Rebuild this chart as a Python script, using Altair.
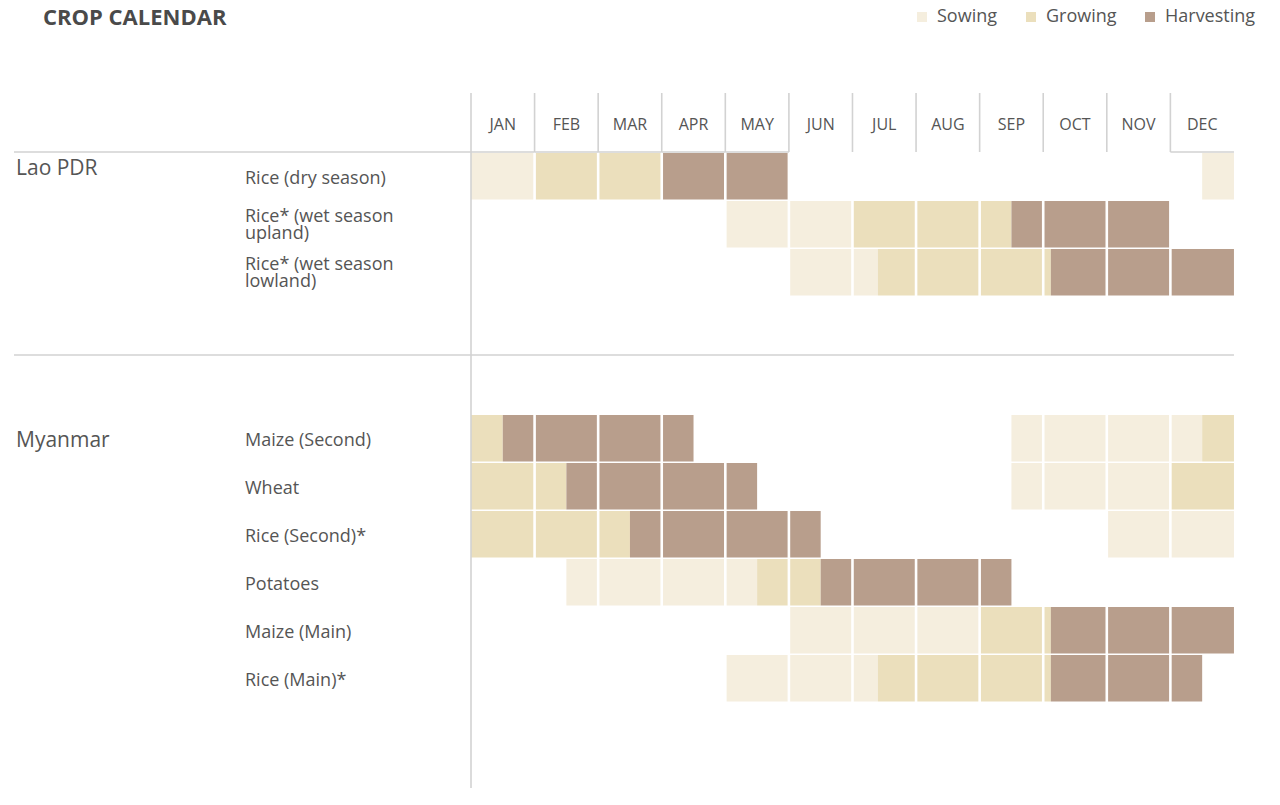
import altair as alt
import pandas as pd

# ---------------- data ----------------
TITLE = "CROP CALENDAR"
months = ["JAN", "FEB", "MAR", "APR", "MAY", "JUN", "JUL", "AUG", "SEP", "OCT", "NOV", "DEC"]
stages = ["Sowing", "Growing", "Harvesting"]
stage_colors = ["#F5EEDE", "#EBDFBC", "#B89E8C"]

countries = ["Lao PDR", "Myanmar"]
lao_crops = ["Rice (dry season)", "Rice* (wet season\nupland)", "Rice* (wet season\nlowland)"]
myanmar_crops = ["Maize (Second)", "Wheat", "Rice (Second)*", "Potatoes", "Maize (Main)", "Rice (Main)*"]

# stage periods, in months (0 = start of January, 12 = end of December)
rice_dry_stage = ["Sowing", "Growing", "Harvesting", "Sowing"]
rice_dry_from = [0, 1, 3, 11.5]
rice_dry_to = [1, 3, 5, 12]

rice_upland_stage = ["Sowing", "Growing", "Harvesting"]
rice_upland_from = [4, 6, 8.5]
rice_upland_to = [6, 8.5, 11]

rice_lowland_stage = ["Sowing", "Growing", "Harvesting"]
rice_lowland_from = [5, 6.4, 9.12]
rice_lowland_to = [6.4, 9.12, 12]

maize_second_stage = ["Growing", "Harvesting", "Sowing", "Growing"]
maize_second_from = [0, 0.5, 8.5, 11.5]
maize_second_to = [0.5, 3.5, 11.5, 12]

wheat_stage = ["Growing", "Harvesting", "Sowing", "Growing"]
wheat_from = [0, 1.5, 8.5, 11]
wheat_to = [1.5, 4.5, 11, 12]

rice_second_stage = ["Growing", "Harvesting", "Sowing"]
rice_second_from = [0, 2.5, 10]
rice_second_to = [2.5, 5.5, 12]

potatoes_stage = ["Sowing", "Growing", "Harvesting"]
potatoes_from = [1.5, 4.5, 5.5]
potatoes_to = [4.5, 5.5, 8.5]

maize_main_stage = ["Sowing", "Growing", "Harvesting"]
maize_main_from = [5, 8, 9.12]
maize_main_to = [8, 9.12, 12]

rice_main_stage = ["Sowing", "Growing", "Harvesting"]
rice_main_from = [4, 6.4, 9.12]
rice_main_to = [6.4, 9.12, 11.5]

crop_periods = [
    [(rice_dry_stage, rice_dry_from, rice_dry_to),
     (rice_upland_stage, rice_upland_from, rice_upland_to),
     (rice_lowland_stage, rice_lowland_from, rice_lowland_to)],
    [(maize_second_stage, maize_second_from, maize_second_to),
     (wheat_stage, wheat_from, wheat_to),
     (rice_second_stage, rice_second_from, rice_second_to),
     (potatoes_stage, potatoes_from, potatoes_to),
     (maize_main_stage, maize_main_from, maize_main_to),
     (rice_main_stage, rice_main_from, rice_main_to)],
]
crop_names = [lao_crops, myanmar_crops]

# ---------------- layout ----------------
W, H = 1262, 780
MONTH_PX = 63.58
ORIGIN_PX = 463.0
X_DOMAIN = [-ORIGIN_PX / MONTH_PX, (W - ORIGIN_PX) / MONTH_PX]


def mx(px):
    return (px - ORIGIN_PX) / MONTH_PX


HEADER_TOP, HEADER_BOTTOM = 85, 144
ROW_STEP, CELL_H = 48, 46.5
group_tops = [145, 407]
SEP_Y = 347
LINE_LEFT = mx(6)
COUNTRY_X, CROP_X = 8, 237
country_dy = [22, 32]
CROP_DY = 25.5
LINE_H = 17.5
TEXT = "#555555"
GRID = "#d2d2d2"
FONT = "Open Sans"

xs = alt.Scale(domain=X_DOMAIN, nice=False, zero=False)
ys = alt.Scale(domain=[0, H], reverse=True, nice=False, zero=False)

cells, gaps, crop_lbl, country_lbl = [], [], [], []
for ci, country in enumerate(countries):
    top0 = group_tops[ci]
    country_lbl.append({"text": country, "y": top0 + country_dy[ci]})
    for ri, crop in enumerate(crop_names[ci]):
        top = top0 + ri * ROW_STEP
        n_lines = crop.count("\n") + 1
        crop_lbl.append({"text": crop, "y": top + CROP_DY - (n_lines - 1) * (LINE_H / 2 + 1)})
        st, fr, to = crop_periods[ci][ri]
        for s, a, b in zip(st, fr, to):
            cells.append({"stage": s, "x": a, "x2": b, "y": top, "y2": top + CELL_H})
    bottom = top0 + (len(crop_names[ci]) - 1) * ROW_STEP + CELL_H
    for m in range(1, 12):
        gaps.append({"x": m, "y": top0 - 1, "y2": bottom + 1})

cells = pd.DataFrame(cells)
gaps = pd.DataFrame(gaps)
crop_lbl = pd.DataFrame(crop_lbl)
country_lbl = pd.DataFrame(country_lbl)

month_df = pd.DataFrame({"month": months, "x": [i + 0.5 for i in range(12)], "y": [122] * 12})
vlines = pd.DataFrame({"x": list(range(12)), "y": [HEADER_TOP] * 12,
                       "y2": [H] + [HEADER_BOTTOM] * 11})

# header bottom border: label area + months in which the first crop row is filled
hb = [{"x": LINE_LEFT, "x2": 0, "y": HEADER_BOTTOM}]
st0, fr0, to0 = crop_periods[0][0]
for m in range(12):
    if any(a < m + 1 and b > m for a, b in zip(fr0, to0)):
        hb.append({"x": m, "x2": m + 1, "y": HEADER_BOTTOM})
hb = pd.DataFrame(hb)
sep = pd.DataFrame({"x": [LINE_LEFT], "x2": [12], "y": [SEP_Y]})
title_df = pd.DataFrame({"text": [TITLE]})

rects = alt.Chart(cells).mark_rect().encode(
    x=alt.X("x:Q", scale=xs, axis=None),
    x2="x2:Q",
    y=alt.Y("y:Q", scale=ys, axis=None),
    y2="y2:Q",
    color=alt.Color(
        "stage:N",
        scale=alt.Scale(domain=stages, range=stage_colors),
        legend=alt.Legend(
            orient="none", legendX=905, legendY=0, direction="horizontal", title=None,
            symbolType="square", symbolSize=100, symbolStrokeWidth=0, symbolOpacity=1,
            labelFontSize=18, labelFont=FONT, labelColor=TEXT, labelOffset=6,
            columnPadding=24, padding=0,
        ),
    ),
)

gap_rules = alt.Chart(gaps).mark_rule(color="white", strokeWidth=2.6).encode(
    x=alt.X("x:Q", scale=xs, axis=None),
    y=alt.Y("y:Q", scale=ys, axis=None),
    y2="y2:Q",
)

v_rules = alt.Chart(vlines).mark_rule(color=GRID, strokeWidth=1.6).encode(
    x=alt.X("x:Q", scale=xs, axis=None),
    y=alt.Y("y:Q", scale=ys, axis=None),
    y2="y2:Q",
)

h_rules = alt.Chart(pd.concat([hb, sep])).mark_rule(color=GRID, strokeWidth=1.6).encode(
    x=alt.X("x:Q", scale=xs, axis=None),
    x2="x2:Q",
    y=alt.Y("y:Q", scale=ys, axis=None),
)

month_text = alt.Chart(month_df).mark_text(
    font=FONT, fontSize=16, color=TEXT, align="center", baseline="alphabetic"
).encode(
    x=alt.X("x:Q", scale=xs, axis=None),
    y=alt.Y("y:Q", scale=ys, axis=None),
    text="month:N",
)

crop_text = alt.Chart(crop_lbl).mark_text(
    font=FONT, fontSize=18, color=TEXT, align="left", baseline="middle",
    lineBreak="\n", lineHeight=LINE_H,
).encode(
    x=alt.value(CROP_X),
    y=alt.Y("y:Q", scale=ys, axis=None),
    text="text:N",
)

country_text = alt.Chart(country_lbl).mark_text(
    font=FONT, fontSize=21, color=TEXT, align="left", baseline="alphabetic"
).encode(
    x=alt.value(COUNTRY_X),
    y=alt.Y("y:Q", scale=ys, axis=None),
    text="text:N",
)

title_text = alt.Chart(title_df).mark_text(
    font=FONT, fontSize=22, fontWeight="bold", color="#4a4a4a", align="left", baseline="alphabetic"
).encode(
    x=alt.value(35),
    y=alt.value(16.5),
    text="text:N",
)

chart = alt.layer(
    rects, gap_rules, v_rules, h_rules, month_text, crop_text, country_text, title_text
).properties(
    width=W, height=H, padding=0, autosize=alt.AutoSizeParams(type="none")
).configure_view(stroke=None)

chart.save("out.html", embed_options={"renderer": "svg", "actions": False})
